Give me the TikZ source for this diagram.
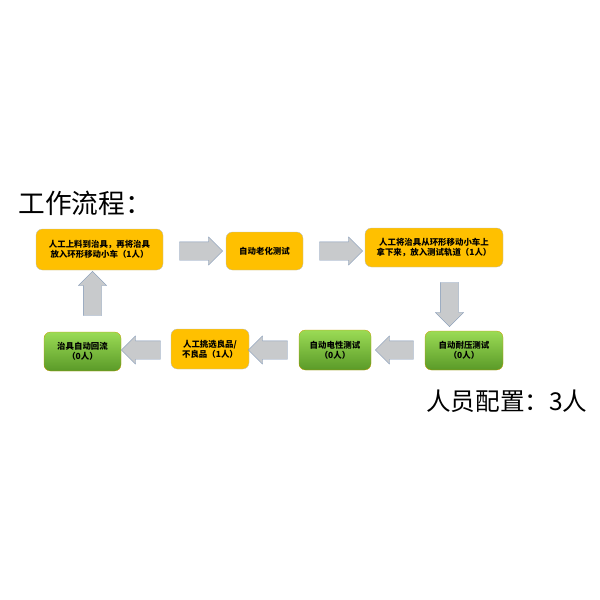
\documentclass[tikz,border=0pt]{standalone}
\usepackage{fontspec}
\setmainfont{Noto Sans CJK SC}
\usetikzlibrary{shapes.arrows}
\definecolor{boxorange}{HTML}{FFC000}
\definecolor{greenhi}{HTML}{9BDB55}
\definecolor{greenlo}{HTML}{5A9A28}
\definecolor{arrowgray}{HTML}{C8CACC}
\definecolor{arrowedge}{HTML}{7D95B5}
\tikzset{
  orangebox/.style={draw=arrowedge!60, fill=boxorange, rounded corners=9, align=center, font=\bfseries\fontsize{12}{14.5}\selectfont, inner sep=0},
  greenbox/.style={draw=boxorange!80!black, top color=greenhi, bottom color=greenlo, rounded corners=9, align=center, font=\bfseries\fontsize{12}{14.5}\selectfont, inner sep=0},
  flowarrow/.style={single arrow, draw=arrowedge, fill=arrowgray, single arrow head extend=0.25cm, inner xsep=0, inner ysep=0.45cm, minimum height=#1}
}
\begin{document}
\begin{tikzpicture}[x=0.05cm, y=-0.05cm]
\useasboundingbox (0,0) rectangle (600,600);
\node[anchor=west, font=\fontsize{38}{40}\selectfont] (title) at (16,203) {工作流程：};
\node[anchor=east, font=\fontsize{35}{38}\selectfont] (staff) at (590,401) {人员配置：3人};
% Top row
\node[orangebox, minimum width=127*0.05cm, minimum height=41*0.05cm] (b1) at (99.5,249.5) {人工上料到治具，再将治具\\放入环形移动小车（1人）};
\node[orangebox, minimum width=77*0.05cm, minimum height=38*0.05cm] (b2) at (264.5,251) {自动老化测试};
\node[orangebox, minimum width=138*0.05cm, minimum height=39*0.05cm] (b3) at (434,247.5) {人工将治具从环形移动小车上\\拿下来，放入测试轨道（1人）};
% Bottom row
\node[greenbox, minimum width=78*0.05cm, minimum height=39*0.05cm] (b4) at (464,350.5) {自动耐压测试\\（0人）};
\node[greenbox, minimum width=72*0.05cm, minimum height=40*0.05cm] (b5) at (335,350) {自动电性测试\\（0人）};
\node[orangebox, minimum width=78*0.05cm, minimum height=40*0.05cm] (b6) at (210,349) {人工挑选良品/\\不良品（1人）};
\node[greenbox, minimum width=77*0.05cm, minimum height=39*0.05cm] (b7) at (82.5,351.5) {治具自动回流\\（0人）};
% Arrows
\node[flowarrow=43*0.05cm] (a1) at (196.5,251) {};
\node[flowarrow=43*0.05cm] (a2) at (336.5,251) {};
\node[flowarrow=44*0.05cm, rotate=-90] (a3) at (449.5,300) {};
\node[flowarrow=38*0.05cm, rotate=180] (a4) at (399,350) {};
\node[flowarrow=39*0.05cm, rotate=180] (a5) at (272.5,350) {};
\node[flowarrow=39*0.05cm, rotate=180] (a6) at (145.5,350) {};
\node[flowarrow=44*0.05cm, rotate=90] (a7) at (92.5,298) {};
\end{tikzpicture}
\end{document}
